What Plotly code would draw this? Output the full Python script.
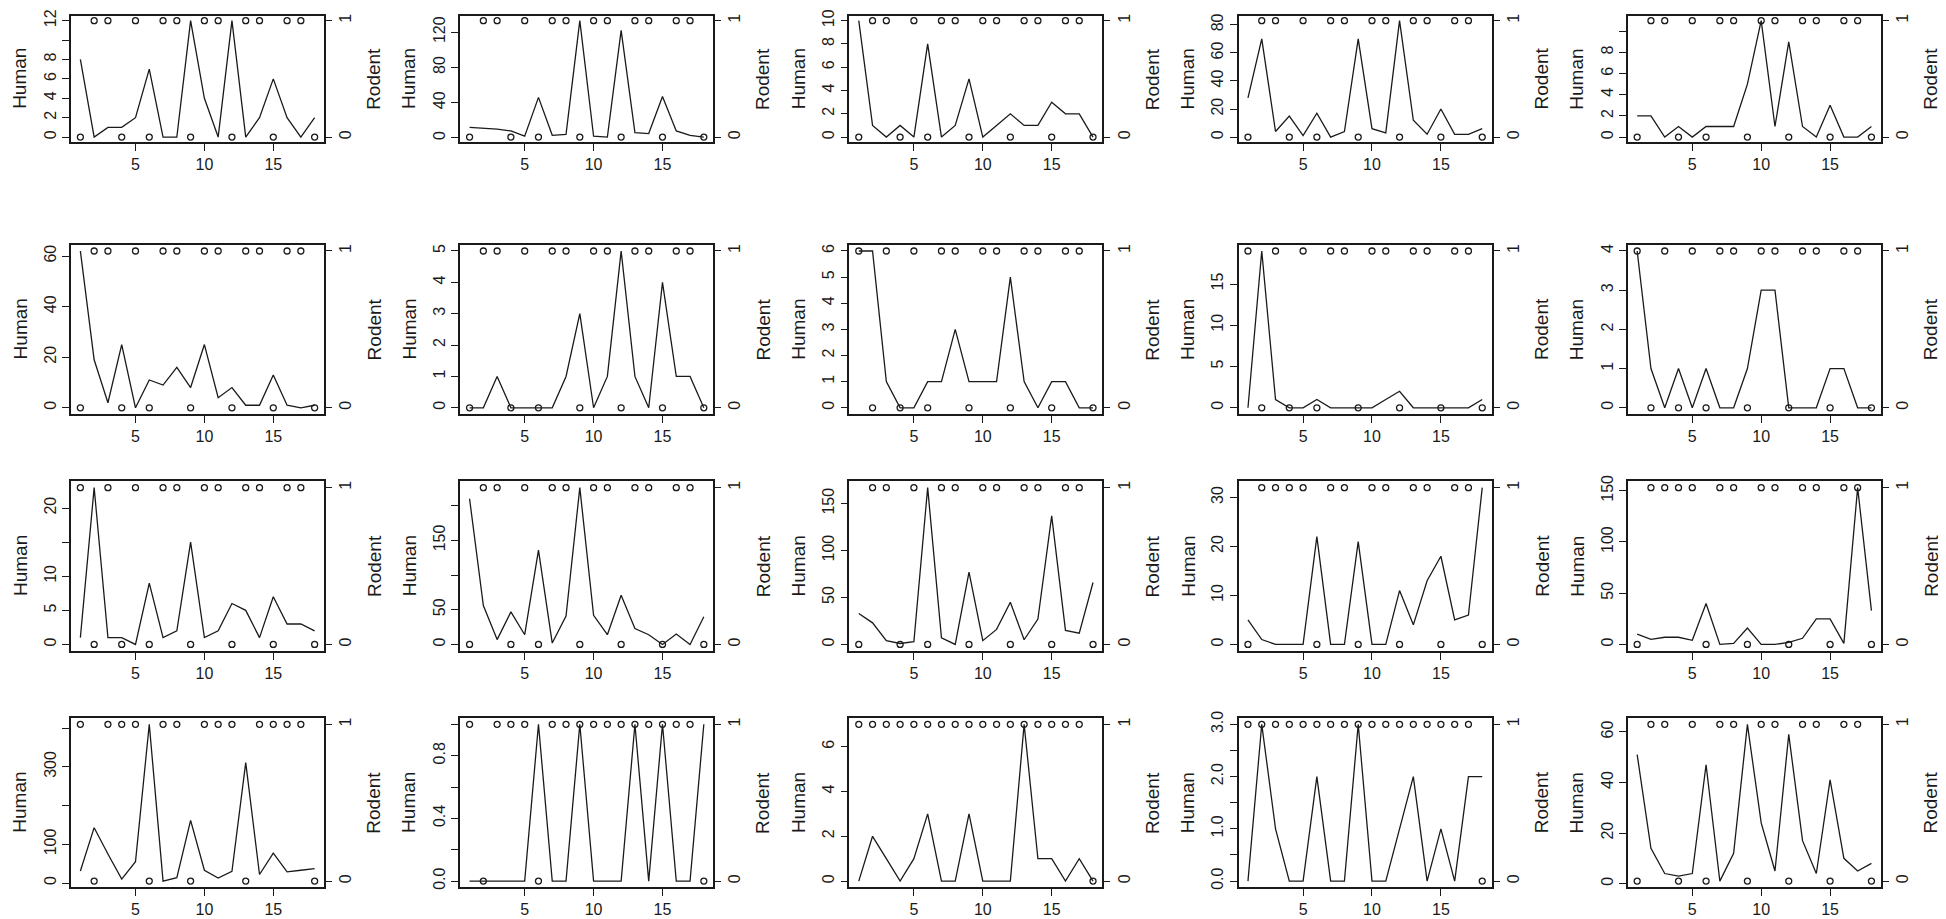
import plotly.graph_objects as go

# ---------------- data ----------------
x_vals = list(range(1, 19))
x_ticks = [5, 10, 15]

h01 = [8, 0, 1, 1, 2, 7, 0, 0, 12, 4, 0, 12, 0, 2, 6, 2, 0, 2]
h02 = [12, 11, 10, 8, 2, 46, 3, 4, 133, 2, 1, 122, 6, 5, 47, 8, 3, 1]
h03 = [10, 1, 0, 1, 0, 8, 0, 1, 5, 0, 1, 2, 1, 1, 3, 2, 2, 0]
h04 = [28, 70, 4, 15, 1, 17, 0, 4, 70, 6, 3, 83, 12, 2, 20, 2, 2, 6]
h05 = [2, 2, 0, 1, 0, 1, 1, 1, 5, 11, 1, 9, 1, 0, 3, 0, 0, 1]
h06 = [62, 19, 2, 25, 0, 11, 9, 16, 8, 25, 4, 8, 1, 1, 13, 1, 0, 1]
h07 = [0, 0, 1, 0, 0, 0, 0, 1, 3, 0, 1, 5, 1, 0, 4, 1, 1, 0]
h08 = [6, 6, 1, 0, 0, 1, 1, 3, 1, 1, 1, 5, 1, 0, 1, 1, 0, 0]
h09 = [0, 19, 1, 0, 0, 1, 0, 0, 0, 0, 1, 2, 0, 0, 0, 0, 0, 1]
h10 = [4, 1, 0, 1, 0, 1, 0, 0, 1, 3, 3, 0, 0, 0, 1, 1, 0, 0]
h11 = [1, 23, 1, 1, 0, 9, 1, 2, 15, 1, 2, 6, 5, 1, 7, 3, 3, 2]
h12 = [210, 56, 7, 47, 14, 136, 2, 41, 226, 42, 14, 71, 23, 14, 0, 15, 0, 40]
h13 = [33, 23, 4, 1, 3, 167, 7, 0, 77, 4, 16, 45, 5, 27, 137, 15, 12, 66]
h14 = [5, 1, 0, 0, 0, 22, 0, 0, 21, 0, 0, 11, 4, 13, 18, 5, 6, 32]
h15 = [10, 5, 7, 7, 4, 40, 0, 1, 16, 0, 0, 2, 6, 25, 25, 1, 153, 33]
h16 = [31, 143, 75, 10, 55, 410, 5, 14, 162, 33, 13, 30, 311, 22, 77, 29, 33, 37]
h17 = [0, 0, 0, 0, 0, 1, 0, 0, 1, 0, 0, 0, 1, 0, 1, 0, 0, 1]
h18 = [0, 2, 1, 0, 1, 3, 0, 0, 3, 0, 0, 0, 7, 1, 1, 0, 1, 0]
h19 = [0, 3, 1, 0, 0, 2, 0, 0, 3, 0, 0, 1, 2, 0, 1, 0, 2, 2]
h20 = [51, 14, 4, 3, 4, 47, 1, 12, 63, 24, 5, 59, 17, 4, 41, 10, 5, 8]

r01 = [0, 1, 1, 0, 1, 0, 1, 1, 0, 1, 1, 0, 1, 1, 0, 1, 1, 0]
r02 = [0, 1, 1, 0, 1, 0, 1, 1, 0, 1, 1, 0, 1, 1, 0, 1, 1, 0]
r03 = [0, 1, 1, 0, 1, 0, 1, 1, 0, 1, 1, 0, 1, 1, 0, 1, 1, 0]
r04 = [0, 1, 1, 0, 1, 0, 1, 1, 0, 1, 1, 0, 1, 1, 0, 1, 1, 0]
r05 = [0, 1, 1, 0, 1, 0, 1, 1, 0, 1, 1, 0, 1, 1, 0, 1, 1, 0]
r06 = [0, 1, 1, 0, 1, 0, 1, 1, 0, 1, 1, 0, 1, 1, 0, 1, 1, 0]
r07 = [0, 1, 1, 0, 1, 0, 1, 1, 0, 1, 1, 0, 1, 1, 0, 1, 1, 0]
r08 = [1, 0, 1, 0, 1, 0, 1, 1, 0, 1, 1, 0, 1, 1, 0, 1, 1, 0]
r09 = [1, 0, 1, 0, 1, 0, 1, 1, 0, 1, 1, 0, 1, 1, 0, 1, 1, 0]
r10 = [1, 0, 1, 0, 1, 0, 1, 1, 0, 1, 1, 0, 1, 1, 0, 1, 1, 0]
r11 = [1, 0, 1, 0, 1, 0, 1, 1, 0, 1, 1, 0, 1, 1, 0, 1, 1, 0]
r12 = [0, 1, 1, 0, 1, 0, 1, 1, 0, 1, 1, 0, 1, 1, 0, 1, 1, 0]
r13 = [0, 1, 1, 0, 1, 0, 1, 1, 0, 1, 1, 0, 1, 1, 0, 1, 1, 0]
r14 = [0, 1, 1, 1, 1, 0, 1, 1, 0, 1, 1, 0, 1, 1, 0, 1, 1, 0]
r15 = [0, 1, 1, 1, 1, 0, 1, 1, 0, 1, 1, 0, 1, 1, 0, 1, 1, 0]
r16 = [1, 0, 1, 1, 1, 0, 1, 1, 0, 1, 1, 1, 0, 1, 1, 1, 1, 0]
r17 = [1, 0, 1, 1, 1, 0, 1, 1, 1, 1, 1, 1, 1, 1, 1, 1, 1, 0]
r18 = [1, 1, 1, 1, 1, 1, 1, 1, 1, 1, 1, 1, 1, 1, 1, 1, 1, 0]
r19 = [1, 1, 1, 1, 1, 1, 1, 1, 1, 1, 1, 1, 1, 1, 1, 1, 1, 0]
r20 = [0, 1, 1, 0, 1, 0, 1, 1, 0, 1, 1, 0, 1, 1, 0, 1, 1, 0]

# left-axis tick values and their labels (blank = label dropped in original)
yt01 = [0, 2, 4, 6, 8, 10, 12];        yl01 = ["0", "2", "4", "6", "8", "", "12"]
yt02 = [0, 40, 80, 120];               yl02 = ["0", "40", "80", "120"]
yt03 = [0, 2, 4, 6, 8, 10];            yl03 = ["0", "2", "4", "6", "8", "10"]
yt04 = [0, 20, 40, 60, 80];            yl04 = ["0", "20", "40", "60", "80"]
yt05 = [0, 2, 4, 6, 8, 10];            yl05 = ["0", "2", "4", "6", "8", ""]
yt06 = [0, 20, 40, 60];                yl06 = ["0", "20", "40", "60"]
yt07 = [0, 1, 2, 3, 4, 5];             yl07 = ["0", "1", "2", "3", "4", "5"]
yt08 = [0, 1, 2, 3, 4, 5, 6];          yl08 = ["0", "1", "2", "3", "4", "5", "6"]
yt09 = [0, 5, 10, 15];                 yl09 = ["0", "5", "10", "15"]
yt10 = [0, 1, 2, 3, 4];                yl10 = ["0", "1", "2", "3", "4"]
yt11 = [0, 5, 10, 15, 20];             yl11 = ["0", "5", "10", "", "20"]
yt12 = [0, 50, 100, 150, 200];         yl12 = ["0", "50", "", "150", ""]
yt13 = [0, 50, 100, 150];              yl13 = ["0", "50", "100", "150"]
yt14 = [0, 10, 20, 30];                yl14 = ["0", "10", "20", "30"]
yt15 = [0, 50, 100, 150];              yl15 = ["0", "50", "100", "150"]
yt16 = [0, 100, 200, 300, 400];        yl16 = ["0", "100", "", "300", ""]
yt17 = [0, 0.2, 0.4, 0.6, 0.8, 1.0];   yl17 = ["0.0", "", "0.4", "", "0.8", ""]
yt18 = [0, 2, 4, 6];                   yl18 = ["0", "2", "4", "6"]
yt19 = [0, 0.5, 1, 1.5, 2, 2.5, 3];    yl19 = ["0.0", "", "1.0", "", "2.0", "", "3.0"]
yt20 = [0, 20, 40, 60];                yl20 = ["0", "20", "40", "60"]

left_title = "Human"
right_title = "Rodent"

humans = [h01, h02, h03, h04, h05, h06, h07, h08, h09, h10,
          h11, h12, h13, h14, h15, h16, h17, h18, h19, h20]
rodents = [r01, r02, r03, r04, r05, r06, r07, r08, r09, r10,
           r11, r12, r13, r14, r15, r16, r17, r18, r19, r20]
yticks = [yt01, yt02, yt03, yt04, yt05, yt06, yt07, yt08, yt09, yt10,
          yt11, yt12, yt13, yt14, yt15, yt16, yt17, yt18, yt19, yt20]
ylabels = [yl01, yl02, yl03, yl04, yl05, yl06, yl07, yl08, yl09, yl10,
           yl11, yl12, yl13, yl14, yl15, yl16, yl17, yl18, yl19, yl20]

# ---------------- layout geometry (pixels) ----------------
W, H = 1946, 919
NCOL, NROW = 5, 4
cell_w = W / NCOL
box_l, box_r = 63, 316
row_tops = [1, 232, 471, 710]
row_hts = [127, 171, 171, 171]
human_off, rodent_off = 12, 366

FONT = "Arial, Liberation Sans, Helvetica, sans-serif"
TICK_SIZE = 16
TITLE_SIZE = 19
INK = "#1a1a1a"

fig = go.Figure()
layout = dict(
    width=W, height=H, autosize=False,
    margin=dict(l=0, r=0, t=0, b=0),
    paper_bgcolor="white", plot_bgcolor="white",
    showlegend=False,
    font=dict(family=FONT, color=INK, size=TICK_SIZE),
)
annotations = []


def pad_range(lo, hi):
    d = hi - lo if hi > lo else 1.0
    return [lo - 0.04 * d, hi + 0.04 * d]


for i in range(20):
    row, col = divmod(i, NCOL)
    xa = i + 1
    ya = 2 * i + 1
    yb = 2 * i + 2
    xname = "x" if xa == 1 else f"x{xa}"
    yname = "y" if ya == 1 else f"y{ya}"
    ybname = f"y{yb}"

    x0 = (col * cell_w + box_l) / W
    x1 = (col * cell_w + box_r) / W
    top = row_tops[row]
    bh = row_hts[row]
    y1 = 1 - top / H
    y0 = 1 - (top + bh) / H

    hv = humans[i]
    rv = rodents[i]

    fig.add_trace(go.Scatter(
        x=x_vals, y=hv, mode="lines", xaxis=xname, yaxis=yname,
        line=dict(color=INK, width=1.3), hoverinfo="x+y",
    ))
    fig.add_trace(go.Scatter(
        x=x_vals, y=rv, mode="markers", xaxis=xname, yaxis=ybname,
        marker=dict(symbol="circle-open", size=6, color=INK,
                    line=dict(width=1.3, color=INK)),
        hoverinfo="x+y",
    ))

    layout[f"xaxis{xa}"] = dict(
        domain=[x0, x1], anchor=yname, range=pad_range(1, 18),
        tickmode="array", tickvals=x_ticks, ticktext=[str(v) for v in x_ticks],
        ticks="outside", ticklen=7, tickwidth=1.3, tickcolor=INK,
        showline=True, linecolor=INK, linewidth=1.6, mirror=True,
        showgrid=False, zeroline=False,
        tickfont=dict(size=TICK_SIZE, family=FONT, color=INK),
    )
    layout[f"yaxis{ya}"] = dict(
        domain=[y0, y1], anchor=xname, range=pad_range(min(hv), max(hv)),
        tickmode="array", tickvals=yticks[i], ticktext=ylabels[i],
        tickangle=-90,
        ticks="outside", ticklen=7, tickwidth=1.3, tickcolor=INK,
        showline=True, linecolor=INK, linewidth=1.6, mirror=True,
        showgrid=False, zeroline=False,
        tickfont=dict(size=TICK_SIZE, family=FONT, color=INK),
    )
    layout[f"yaxis{yb}"] = dict(
        overlaying=yname, anchor=xname, side="right", range=[-0.04, 1.04],
        tickmode="array", tickvals=[0, 1], ticktext=["0", "1"],
        tickangle=-90,
        ticks="outside", ticklen=7, tickwidth=1.3, tickcolor=INK,
        showline=False, showgrid=False, zeroline=False,
        tickfont=dict(size=TICK_SIZE, family=FONT, color=INK),
    )

    ymid = 1 - (top + bh / 2) / H
    annotations.append(dict(
        text=left_title, textangle=-90, xref="paper", yref="paper",
        x=(col * cell_w + human_off) / W, y=ymid, xanchor="center", yanchor="middle",
        showarrow=False, font=dict(size=TITLE_SIZE, family=FONT, color=INK),
    ))
    annotations.append(dict(
        text=right_title, textangle=-90, xref="paper", yref="paper",
        x=(col * cell_w + rodent_off) / W, y=ymid, xanchor="center", yanchor="middle",
        showarrow=False, font=dict(size=TITLE_SIZE, family=FONT, color=INK),
    ))

layout["annotations"] = annotations
fig.update_layout(**layout)
fig.write_html("out.html")
